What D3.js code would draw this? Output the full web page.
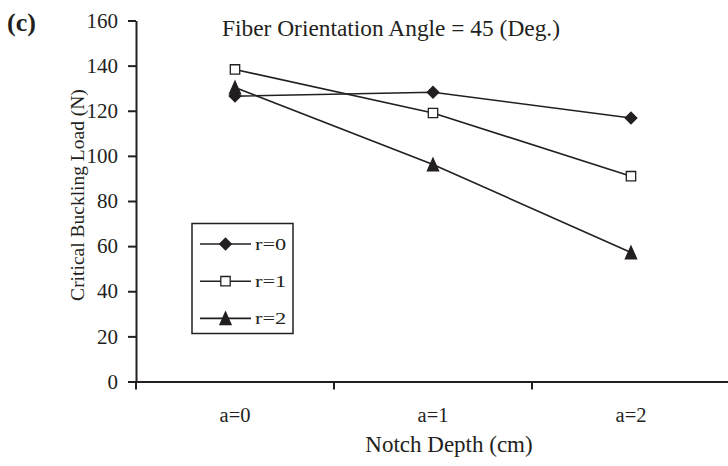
<!DOCTYPE html>
<html><head><meta charset="utf-8">
<script src="https://cdn.jsdelivr.net/npm/d3@7"></script>
<style>body{margin:0;background:#fff}svg{display:block}text{font-family:"Liberation Serif","Times New Roman",serif;fill:#231f20}</style>
</head><body><div id="chart"></div>
<script>
const categories = ["a=0", "a=1", "a=2"];
const seriesNames = ["r=0", "r=1", "r=2"];
const r0 = [126.5, 128.2, 116.8];
const r1 = [138.3, 119.0, 91.0];
const r2 = [130.3, 96.2, 57.2];
const yTicks = [0, 20, 40, 60, 80, 100, 120, 140, 160];

const tri = {draw(ctx){ ctx.moveTo(0,-6.3); ctx.lineTo(5.6,6.3); ctx.lineTo(-5.6,6.3); ctx.closePath(); }};
const series = [
  {name: seriesNames[0], values: r0, symbol: d3.symbol().type(d3.symbolDiamond2).size(86), fill: "#231f20"},
  {name: seriesNames[1], values: r1, symbol: d3.symbol().type(d3.symbolSquare).size(88), fill: "#fff"},
  {name: seriesNames[2], values: r2, symbol: d3.symbol().type(tri), fill: "#231f20"}
];
const W = 728, H = 466, ink = "#231f20";
const svg = d3.select("#chart").append("svg").attr("width", W).attr("height", H);
const x = d3.scaleBand().domain(categories).range([136, 730]);
const y = d3.scaleLinear().domain([0, 160]).range([381.5, 20.5]);

const yAxis = svg.append("g").attr("transform", "translate(136,0)")
  .call(d3.axisLeft(y).tickValues(yTicks).tickSize(8).tickSizeOuter(0).tickPadding(10));
const xAxis = svg.append("g").attr("transform", "translate(0,381.5)")
  .call(d3.axisBottom(x).tickSize(0).tickPadding(26));
xAxis.selectAll(".tick").append("line").attr("x1", -x.bandwidth()/2).attr("x2", -x.bandwidth()/2)
  .attr("y1", 0).attr("y2", 8).attr("stroke", ink).attr("stroke-width", 2);
svg.selectAll(".domain").attr("stroke", ink).attr("stroke-width", 2);
yAxis.selectAll(".tick line").attr("stroke", ink).attr("stroke-width", 2);
yAxis.selectAll(".tick text").attr("font-family", "Liberation Serif").attr("font-size", 21).attr("fill", ink);
xAxis.selectAll(".tick text").attr("font-family", "Liberation Serif").attr("font-size", 20.5).attr("fill", ink);

const line = d3.line().x((d,i)=>x(categories[i]) + x.bandwidth()/2).y(d=>y(d));
series.forEach(s => {
  svg.append("path").attr("d", line(s.values)).attr("fill","none").attr("stroke", ink).attr("stroke-width", 1.6);
});
series.forEach(s => {
  svg.selectAll(null).data(s.values).enter().append("path")
    .attr("d", s.symbol)
    .attr("transform", (d,i)=>`translate(${x(categories[i]) + x.bandwidth()/2},${y(d)})`)
    .attr("fill", s.fill).attr("stroke", ink).attr("stroke-width", 1.3);
});

// legend
const lg = svg.append("g");
lg.append("rect").attr("x",192).attr("y",223.5).attr("width",101).attr("height",110).attr("fill","#fff").attr("stroke",ink).attr("stroke-width",1.5);
series.forEach((s,i) => {
  const ly = 244 + i*37.2;
  lg.append("line").attr("x1",200).attr("x2",251).attr("y1",ly).attr("y2",ly).attr("stroke",ink).attr("stroke-width",1.6);
  lg.append("path").attr("d", s.symbol).attr("transform",`translate(225.5,${ly})`)
    .attr("fill", s.fill).attr("stroke", ink).attr("stroke-width", 1.3);
  lg.append("text").attr("transform",`translate(255,${ly+5.5}) scale(1.4,1)`).attr("font-size",16).text(s.name);
});

svg.append("text").attr("x",222).attr("y",36).attr("font-size",23.4).text("Fiber Orientation Angle = 45 (Deg.)");
svg.append("text").attr("x",7).attr("y",31).attr("font-size",26).attr("font-weight","bold")
  .attr("font-family","Liberation Sans").text("(c)");
svg.append("text").attr("x",449).attr("y",452).attr("text-anchor","middle").attr("font-size",23).text("Notch Depth (cm)");
svg.append("text").attr("transform","translate(84,195) rotate(-90)").attr("text-anchor","middle").attr("font-size",19.5).text("Critical Buckling Load (N)");
</script></body></html>
